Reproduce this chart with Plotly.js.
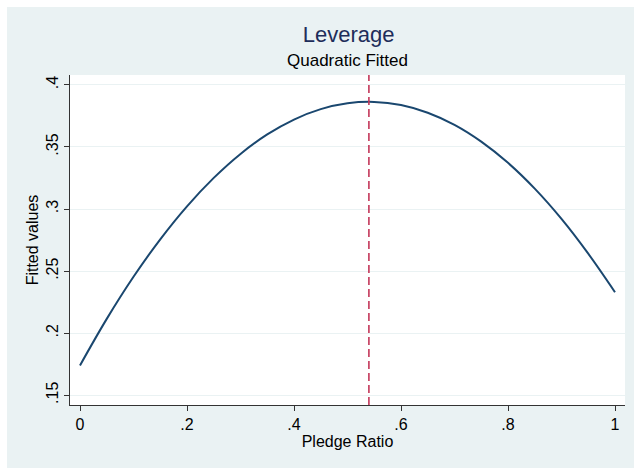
<!DOCTYPE html>
<html>
<head>
<meta charset="utf-8">
<script src="https://cdn.plot.ly/plotly-3.0.1.min.js"></script>
<style>
html,body{margin:0;padding:0;background:#ffffff;width:634px;height:468px;overflow:hidden;}
#chart{position:absolute;left:7px;top:7px;width:627px;height:461px;}
</style>
</head>
<body>
<div id="chart"></div>
<script>
// Pledge ratio (x) and fitted leverage values
var pledgeRatio = [0, 0.05, 0.1, 0.15, 0.2, 0.25, 0.3, 0.35, 0.4, 0.45, 0.5, 0.55, 0.6, 0.65, 0.7, 0.75, 0.8, 0.85, 0.9, 0.95, 1];
var fittedValues = [0.174, 0.2115, 0.2454, 0.2756, 0.3022, 0.3251, 0.3444, 0.3601, 0.3721, 0.3805, 0.3852, 0.3863, 0.3838, 0.3776, 0.3678, 0.3543, 0.3372, 0.3164, 0.2920, 0.2640, 0.2330];
var turningPoint = [0.54];
var xTickVals = [0, 0.2, 0.4, 0.6, 0.8, 1];
var xTickText = ["0", ".2", ".4", ".6", ".8", "1"];
var yTickVals = [0.15, 0.2, 0.25, 0.3, 0.35, 0.4];
var yTickText = [".15", ".2", ".25", ".3", ".35", ".4"];

var font = "Liberation Sans, Arial, Helvetica, sans-serif";

var traces = [{
  x: pledgeRatio,
  y: fittedValues,
  type: "scatter",
  mode: "lines",
  line: {color: "#1a476f", width: 2, shape: "spline", smoothing: 1},
  hoverinfo: "x+y"
}];

var layout = {
  width: 627,
  height: 461,
  paper_bgcolor: "#eaf2f3",
  plot_bgcolor: "#ffffff",
  margin: {l: 63, r: 9, t: 68, b: 63},
  showlegend: false,
  font: {family: font, color: "#000000", size: 16},
  title: {
    text: "Leverage",
    font: {family: font, size: 22, color: "#1e2d5a"},
    x: 0.545, xanchor: "center",
    y: 1 - 27/461, yanchor: "middle"
  },
  annotations: [{
    text: "Quadratic Fitted",
    xref: "paper", yref: "paper",
    x: 0.5, y: 1 + 14/330,
    xanchor: "center", yanchor: "middle",
    showarrow: false,
    font: {family: font, size: 17, color: "#000000"}
  }],
  xaxis: {
    range: [-0.0187, 1.0187],
    tickvals: xTickVals,
    ticktext: xTickText,
    ticks: "outside",
    ticklen: 5,
    tickwidth: 1,
    tickcolor: "#333333",
    showline: true,
    linecolor: "#333333",
    linewidth: 1,
    showgrid: false,
    zeroline: false,
    tickfont: {family: font, size: 16},
    title: {text: "Pledge Ratio", font: {family: font, size: 16}, standoff: 3}
  },
  yaxis: {
    range: [0.1421, 0.408],
    tickvals: yTickVals,
    ticktext: yTickText,
    tickangle: -90,
    ticks: "outside",
    ticklen: 5,
    tickwidth: 1,
    tickcolor: "#333333",
    showline: true,
    linecolor: "#333333",
    linewidth: 1,
    showgrid: true,
    gridcolor: "#eaf2f3",
    gridwidth: 1,
    zeroline: false,
    tickfont: {family: font, size: 16},
    title: {text: "Fitted values", font: {family: font, size: 16}, standoff: 0}
  },
  shapes: [{
    type: "line",
    xref: "x", yref: "paper",
    x0: turningPoint[0], x1: turningPoint[0],
    y0: 0, y1: 1,
    line: {color: "#c4385a", width: 1.6, dash: "8px,4px"}
  }]
};

Plotly.newPlot("chart", traces, layout, {displayModeBar: false, staticPlot: true});
</script>
</body>
</html>
